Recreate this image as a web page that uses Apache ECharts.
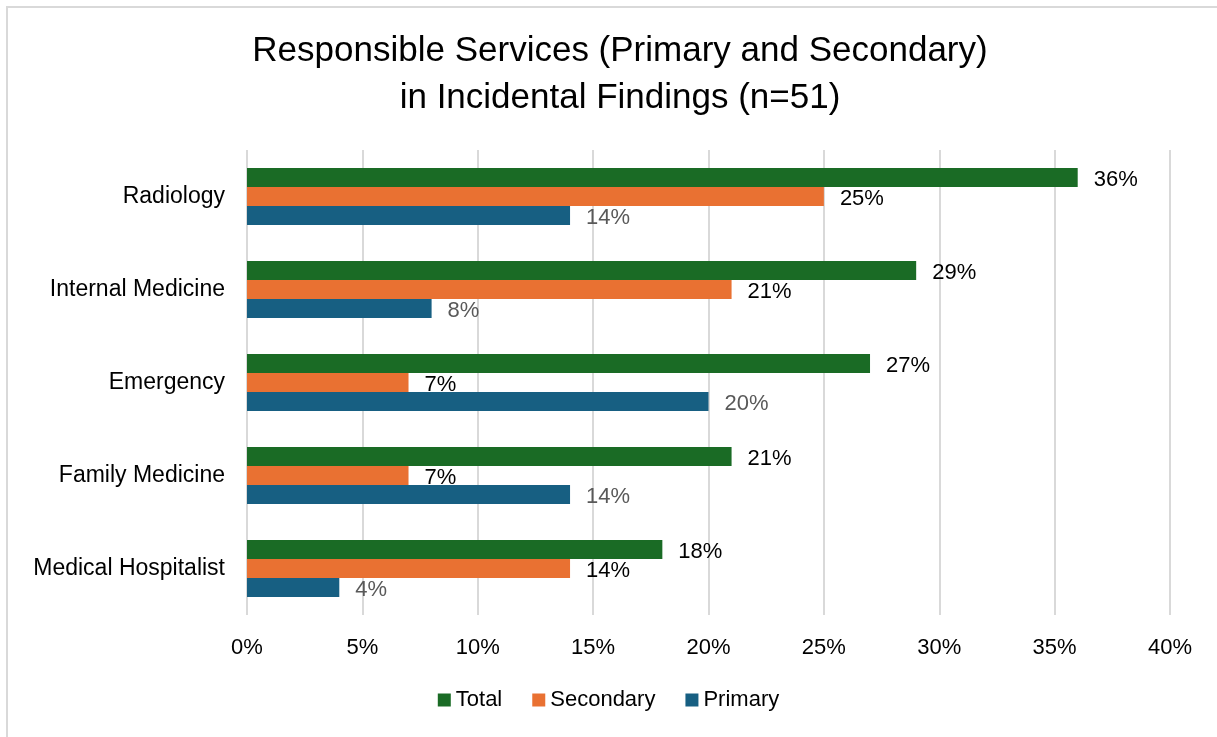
<!DOCTYPE html>
<html><head><meta charset="utf-8">
<script src="https://cdn.jsdelivr.net/npm/echarts@6/dist/echarts.min.js"></script>
<style>
html,body{margin:0;padding:0;background:#fff;overflow:hidden}
#frame{position:absolute;left:6px;top:6px;width:1400px;height:900px;border:2px solid #d9d9d9;box-sizing:border-box}
#c{position:absolute;left:0;top:0;width:1217px;height:737px}
</style></head>
<body>
<div id="frame"></div>
<div id="c"></div>
<script>
const categories = ['Radiology','Internal Medicine','Emergency','Family Medicine','Medical Hospitalist'];
const totalVals = [36,29,27,21,18];
const secondaryVals = [25,21,7,7,14];
const primaryVals = [14,8,20,14,4];
const xTicks = [0,5,10,15,20,25,30,35,40];

const rev = a => a.slice().reverse();
const chart = echarts.init(document.getElementById('c'));
const font = '"Liberation Sans", Arial, sans-serif';
function lbl(color){
  return {show:true, position:'right', distance:16, offset:[0,2], color:color, fontSize:22, fontFamily:font, formatter: p => p.value + '%'};
}
chart.setOption({
  backgroundColor:'transparent',
  animation:false,
  title:{
    text:'Responsible Services (Primary and Secondary)\nin Incidental Findings (n=51)',
    left:615, top:23, textAlign:'center',
    textStyle:{fontSize:35, fontWeight:'normal', color:'#000', lineHeight:47, fontFamily:font}
  },
  legend:{
    data:['Total','Secondary','Primary'],
    bottom:21, left:'center',
    itemWidth:13, itemHeight:13, itemGap:30,
    icon:'rect',
    textStyle:{fontSize:22, color:'#000', fontFamily:font}
  },
  grid:{left:247, right:47, top:150, bottom:122, containLabel:false},
  xAxis:{
    type:'value', min:0, max:40, interval:5,
    axisLine:{show:false}, axisTick:{show:false},
    splitLine:{lineStyle:{color:'#d9d9d9', width:2}},
    axisLabel:{fontSize:22, color:'#000', margin:22, fontFamily:font, formatter: v => v + '%'}
  },
  yAxis:{
    type:'category', data: rev(categories),
    axisLine:{show:false}, axisTick:{show:false},
    axisLabel:{fontSize:23, color:'#000', margin:22, fontFamily:font}
  },
  series:[
    {name:'Total', type:'bar', data:rev(totalVals), barWidth:19, barGap:'0%', itemStyle:{color:'#1a6b25'}, label:lbl('#000')},
    {name:'Secondary', type:'bar', data:rev(secondaryVals), barWidth:19, barGap:'0%', itemStyle:{color:'#e97132'}, label:lbl('#000')},
    {name:'Primary', type:'bar', data:rev(primaryVals), barWidth:19, barGap:'0%', itemStyle:{color:'#175f82'}, label:lbl('#595959')}
  ]
});
</script>
</body></html>
